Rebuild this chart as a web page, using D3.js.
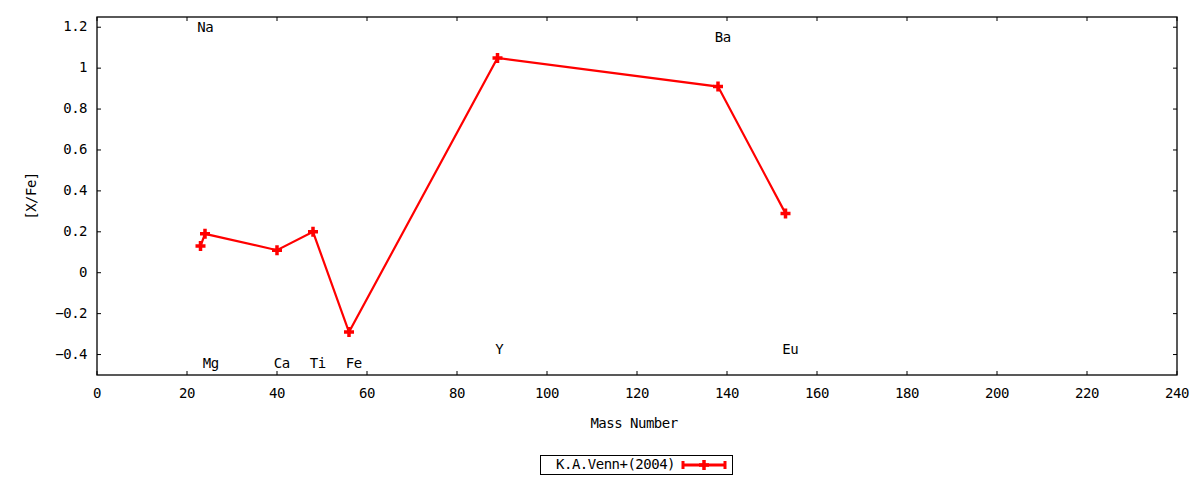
<!DOCTYPE html>
<html>
<meta charset="utf-8">
<script src="https://cdn.jsdelivr.net/npm/d3@7/dist/d3.min.js"></script>
<style>
body { margin:0; background:#fff; }
text { font-family: "DejaVu Sans Mono", "Liberation Mono", monospace; font-size: 14px; letter-spacing: -0.5px; fill: #000; }
</style>
<body>
<svg id="chart" width="1200" height="480"></svg>
<script>
// data (mass number, [X/Fe])
const mass   = [23, 24, 40, 48, 56, 89, 138, 153];
const xfe    = [0.13, 0.19, 0.11, 0.20, -0.29, 1.05, 0.91, 0.29];

// element labels, placed in data coords
const labelText = ["Na", "Mg", "Ca", "Ti", "Fe", "Y", "Ba", "Eu"];
const labelX    = [22.3, 23.5, 39.3, 47.3, 55.3, 88.5, 137.3, 152.3];
const labelY    = [1.195, -0.447, -0.447, -0.447, -0.447, -0.38, 1.145, -0.38];

const xTicks = d3.range(0, 241, 20);
const yTicks = [-0.4, -0.2, 0, 0.2, 0.4, 0.6, 0.8, 1, 1.2];
const seriesName = "K.A.Venn+(2004)";

const svg = d3.select("#chart");
const pl = 97, pr = 1177, pt = 17, pb = 375;

const x = d3.scaleLinear().domain([0, 240]).range([pl, pr]);
const y = d3.scaleLinear().domain([-0.5, 1.25]).range([pb, pt]);

// ticks (inward, mirrored)
const tl = 4;
const g = svg.append("g").attr("stroke", "#000").attr("stroke-width", 1);
xTicks.forEach(t => {
	g.append("line").attr("x1", x(t)).attr("x2", x(t)).attr("y1", pb).attr("y2", pb - tl);
	g.append("line").attr("x1", x(t)).attr("x2", x(t)).attr("y1", pt).attr("y2", pt + tl);
});
yTicks.forEach(t => {
	g.append("line").attr("x1", pl).attr("x2", pl + tl).attr("y1", y(t)).attr("y2", y(t));
	g.append("line").attr("x1", pr).attr("x2", pr - tl).attr("y1", y(t)).attr("y2", y(t));
});

svg.append("rect")
	.attr("x", pl).attr("y", pt)
	.attr("width", pr - pl).attr("height", pb - pt)
	.attr("fill", "none").attr("stroke", "#000").attr("stroke-width", 1.3);

// tick labels
svg.append("g").selectAll("text").data(xTicks).join("text")
	.attr("x", d => x(d)).attr("y", pb + 19)
	.attr("text-anchor", "middle").attr("dominant-baseline", "middle")
	.text(d => d);
svg.append("g").selectAll("text").data(yTicks).join("text")
	.attr("x", pl - 10).attr("y", d => y(d))
	.attr("text-anchor", "end").attr("dominant-baseline", "middle")
	.text(d => d3.format("")(+d.toFixed(1)));

// axis titles
svg.append("text").attr("x", 634).attr("y", 424)
	.attr("text-anchor", "middle").attr("dominant-baseline", "middle")
	.text("Mass Number");
svg.append("text").attr("transform", "translate(32,196) rotate(-90)")
	.attr("text-anchor", "middle").attr("dominant-baseline", "middle")
	.text("[X/Fe]");

// element labels
svg.append("g").selectAll("text").data(labelText).join("text")
	.attr("x", (d, i) => x(labelX[i])).attr("y", (d, i) => y(labelY[i]))
	.attr("dominant-baseline", "middle")
	.text(d => d);

// series
const pts = mass.map((m, i) => [m, xfe[i]]);
const line = d3.line().x(d => x(d[0])).y(d => y(d[1]));
svg.append("path").datum(pts)
	.attr("d", line).attr("fill", "none")
	.attr("stroke", "#ff0000").attr("stroke-width", 2.2);

function plus(cx, cy){
	svg.append("path")
		.attr("d", `M${cx-5},${cy}H${cx+5}M${cx},${cy-5}V${cy+5}`)
		.attr("stroke", "#ff0000").attr("stroke-width", 3.5).attr("fill", "none");
}
pts.forEach(d => plus(x(d[0]), y(d[1])));

// legend
svg.append("rect").attr("x", 540.5).attr("y", 455.5).attr("width", 192).attr("height", 19)
	.attr("fill", "#fff").attr("stroke", "#000").attr("stroke-width", 1);
svg.append("text").attr("x", 675).attr("y", 465)
	.attr("text-anchor", "end").attr("dominant-baseline", "middle")
	.text(seriesName);
svg.append("path")
	.attr("d", "M683,465H725M683,461V469M725,461V469")
	.attr("stroke", "#ff0000").attr("stroke-width", 3).attr("fill", "none");
plus(704, 465);
</script>
</body>
</html>
